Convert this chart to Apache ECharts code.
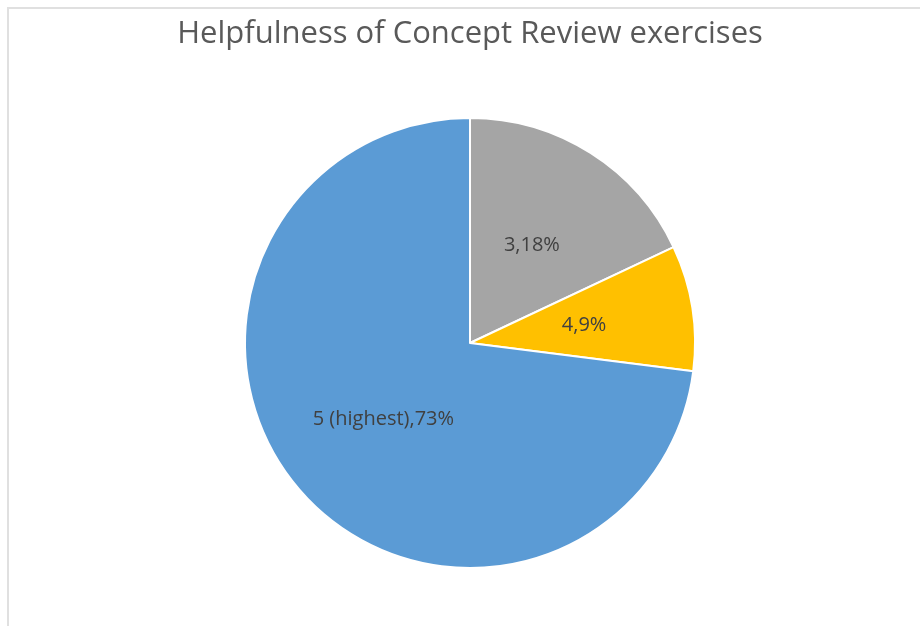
<!DOCTYPE html>
<html>
<head>
<meta charset="utf-8">
<script src="https://cdn.jsdelivr.net/npm/echarts@6/dist/echarts.min.js"></script>
<style>
  html, body { margin: 0; padding: 0; background: #fff; }
  #frame { position: absolute; left: 7px; top: 7px; width: 913px; height: 619px;
           border-top: 2px solid #e0e0e0; border-left: 2px solid #e0e0e0; }
  #pie { position: absolute; left: 0; top: 0; width: 920px; height: 626px; }
</style>
</head>
<body>
<div id="frame"></div>
<div id="pie"></div>
<script>
var categories = ['3', '4', '5 (highest)'];
var percents = [18, 9, 73];
var colors = ['#A5A5A5', '#FFC000', '#5B9BD5'];

var chart = echarts.init(document.getElementById('pie'));
var option = {
    title: {
        text: 'Helpfulness of Concept Review exercises',
        left: 465,
        top: 14,
        textAlign: 'center',
        textStyle: { fontFamily: 'Open Sans', fontSize: 31, fontWeight: 'normal', color: '#595959' }
    },
    series: [
        {
            type: 'pie',
            center: [470, 343],
            radius: [0, 225],
            startAngle: 90,
            clockwise: true,
            animation: false,
            itemStyle: { borderColor: '#fff', borderWidth: 2 },
            label: {
                show: true,
                position: 'inside',
                formatter: function (p) { return p.name + ',' + p.value + '%'; },
                fontFamily: 'Open Sans',
                fontSize: 20,
                color: '#404040'
            },
            labelLine: { show: false },
            emphasis: { disabled: true },
            data: categories.map(function (c, i) {
                return { name: c, value: percents[i], itemStyle: { color: colors[i] } };
            })
        }
    ]
};
chart.setOption(option);
</script>
</body>
</html>
